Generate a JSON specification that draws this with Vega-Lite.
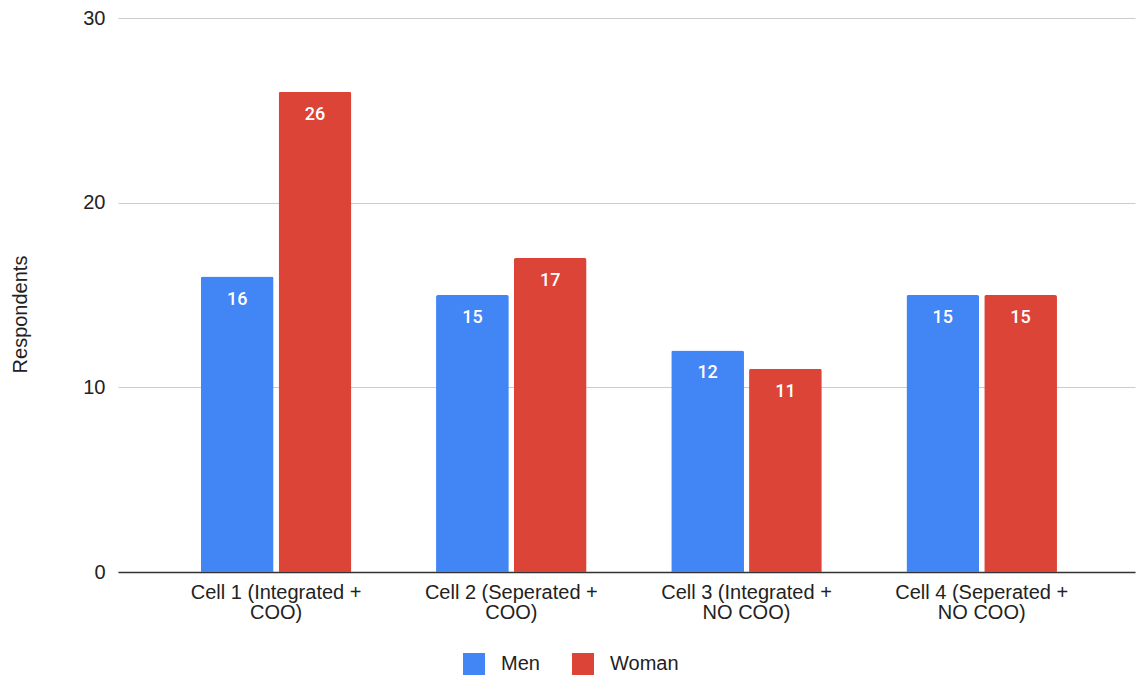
{
  "$schema": "https://vega.github.io/schema/vega-lite/v6.json",
  "width": 1017,
  "height": 554,
  "autosize": {"type": "none"},
  "padding": {"left": 118, "top": 18, "right": 4, "bottom": 105},
  "background": "white",
  "config": {
    "view": {"stroke": null},
    "font": "Liberation Sans"
  },
  "data": {
    "values": [
      {"cell": "Cell 1 (Integrated + COO)", "gender": "Men", "respondents": 16},
      {"cell": "Cell 1 (Integrated + COO)", "gender": "Woman", "respondents": 26},
      {"cell": "Cell 2 (Seperated + COO)", "gender": "Men", "respondents": 15},
      {"cell": "Cell 2 (Seperated + COO)", "gender": "Woman", "respondents": 17},
      {"cell": "Cell 3 (Integrated + NO COO)", "gender": "Men", "respondents": 12},
      {"cell": "Cell 3 (Integrated + NO COO)", "gender": "Woman", "respondents": 11},
      {"cell": "Cell 4 (Seperated + NO COO)", "gender": "Men", "respondents": 15},
      {"cell": "Cell 4 (Seperated + NO COO)", "gender": "Woman", "respondents": 15}
    ]
  },
  "encoding": {
    "x": {
      "field": "cell",
      "type": "nominal",
      "sort": null,
      "scale": {"paddingInner": 0.36, "paddingOuter": 0.342, "align": 0.515},
      "axis": {
        "title": null,
        "labelAngle": 0,
        "labelFontSize": 20,
        "labelColor": "#222222",
        "labelPadding": 10,
        "labelLineHeight": 20,
        "labelExpr": "[slice(datum.label, 0, indexof(datum.label, '+') + 1), slice(datum.label, indexof(datum.label, '+') + 2)]",
        "ticks": false,
        "domainColor": "#333333",
        "domainWidth": 1.5,
        "grid": false
      }
    },
    "xOffset": {
      "field": "gender",
      "type": "nominal",
      "scale": {"paddingInner": 0.065}
    },
    "y": {
      "field": "respondents",
      "type": "quantitative",
      "scale": {"domain": [0, 30]},
      "axis": {
        "title": "Respondents",
        "titleFontSize": 20,
        "titleFontWeight": "normal",
        "titleColor": "#222222",
        "titleAngle": -90,
        "titleX": -98,
        "titleY": 296,
        "titleAlign": "center",
        "titleBaseline": "middle",
        "values": [0, 10, 20, 30],
        "labelFontSize": 20,
        "labelColor": "#222222",
        "labelPadding": 13,
        "ticks": false,
        "domain": false,
        "gridColor": "#cccccc",
        "gridWidth": 1
      }
    }
  },
  "layer": [
    {
      "mark": {"type": "bar", "cornerRadiusTopLeft": 2, "cornerRadiusTopRight": 2},
      "encoding": {
        "color": {
          "field": "gender",
          "type": "nominal",
          "scale": {"domain": ["Men", "Woman"], "range": ["#4285f4", "#db4437"]},
          "legend": {
            "title": null,
            "orient": "none",
            "direction": "horizontal",
            "legendX": 345,
            "legendY": 635,
            "symbolType": "square",
            "symbolSize": 484,
            "symbolStrokeWidth": 0,
            "labelFontSize": 20,
            "labelColor": "#222222",
            "labelOffset": 16,
            "columnPadding": 32
          }
        }
      }
    },
    {
      "mark": {
        "type": "text",
        "baseline": "top",
        "dy": 14,
        "font": "Roboto",
        "fontSize": 18,
        "fontWeight": 500,
        "color": "white"
      },
      "encoding": {
        "text": {"field": "respondents", "type": "quantitative"}
      }
    }
  ]
}
